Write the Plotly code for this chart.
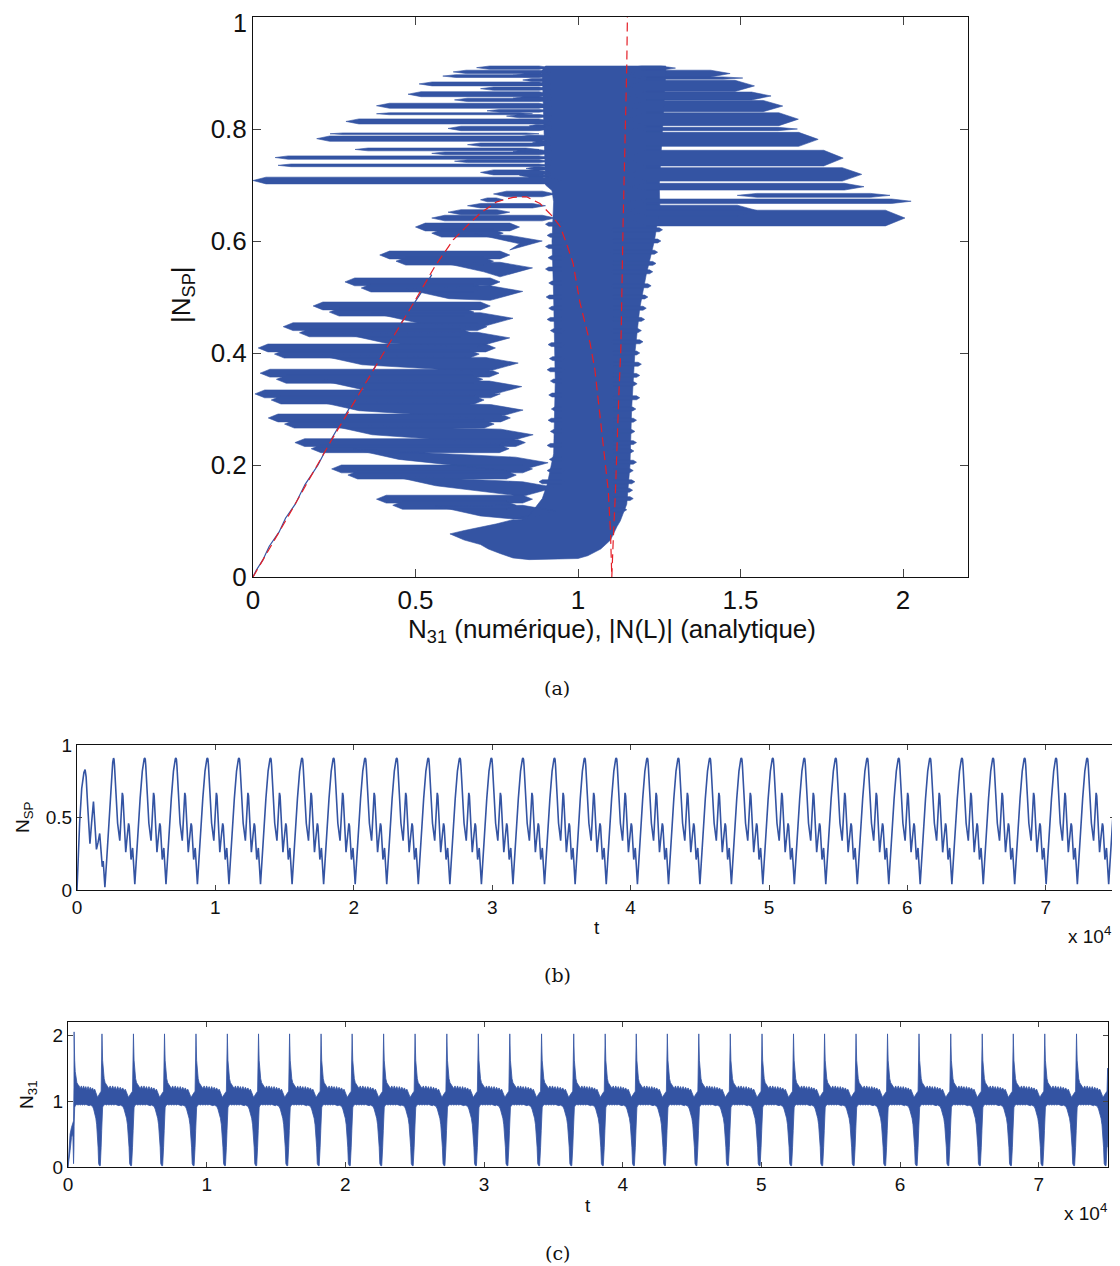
import plotly.graph_objects as go

BLUE = "#3454a3"
RED = "#e41e26"
FONT = "Liberation Sans"
SERIF = "DejaVu Serif"

# ---------------- panel (a) data ----------------
A_XTICKS = [0, 0.5, 1, 1.5, 2]
A_XTICKTEXT = ["0", "0.5", "1", "1.5", "2"]
A_YTICKS = [0, 0.2, 0.4, 0.6, 0.8, 1]
A_YTICKTEXT = ["0", "0.2", "0.4", "0.6", "0.8", "1"]

# outline of the dense column (core + vertical band + foot)
CORE_X = [0.90, 0.89, 0.90, 1.27, 1.27, 1.265, 1.26, 1.255, 1.25, 1.252,
          1.235, 1.21, 1.19, 1.175, 1.165, 1.16, 1.15,
          1.13, 1.12, 1.10, 1.07, 1.03, 1.0, 0.85, 0.80, 0.76, 0.724, 0.70, 0.65, 0.606, 0.65, 0.75, 0.85,
          0.89, 0.905, 0.925, 0.93, 0.925, 0.92, 0.925, 0.92, 0.90]
CORE_Y = [0.705, 0.905, 0.9125, 0.9125, 0.90, 0.85, 0.80, 0.75, 0.70, 0.66,
          0.60, 0.54, 0.48, 0.40, 0.30, 0.20, 0.13,
          0.10, 0.09, 0.066, 0.05, 0.038, 0.033, 0.031, 0.034, 0.042, 0.05, 0.058, 0.066, 0.077, 0.083, 0.095, 0.11,
          0.14, 0.165, 0.22, 0.35, 0.50, 0.60, 0.67, 0.69, 0.70]

# short horizontal hairs on the band's right and left edges (y, tip x)
RH_Y = [0.12, 0.14, 0.155, 0.17, 0.19, 0.205, 0.225, 0.24, 0.26, 0.28, 0.30, 0.32, 0.345, 0.36, 0.38, 0.40,
        0.42, 0.44, 0.46, 0.48, 0.50, 0.52, 0.545, 0.56, 0.58, 0.60, 0.62]
RH_X = [1.15, 1.17, 1.168, 1.175, 1.17, 1.18, 1.172, 1.18, 1.175, 1.18, 1.178, 1.19, 1.182, 1.19, 1.195, 1.19,
        1.20, 1.195, 1.205, 1.21, 1.215, 1.225, 1.23, 1.24, 1.245, 1.255, 1.26]
LH_Y = [0.17, 0.19, 0.21, 0.235, 0.26, 0.28, 0.30, 0.325, 0.35, 0.37, 0.39, 0.415, 0.44, 0.46, 0.48, 0.50,
        0.525, 0.55, 0.57, 0.59, 0.61, 0.63]
LH_X = [0.88, 0.905, 0.912, 0.905, 0.915, 0.908, 0.918, 0.91, 0.915, 0.905, 0.912, 0.908, 0.915, 0.905, 0.91,
        0.902, 0.91, 0.90, 0.908, 0.90, 0.905, 0.90]

# lower-left "fingers": left tip (x, y) and right tip (x, y)
FING_XL = [0.50, 0.39, 0.283, 0.185, 0.093, 0.016, 0.022, 0.006, 0.047, 0.129, 0.242, 0.38]
FING_YL = [0.625, 0.575, 0.527, 0.484, 0.447, 0.409, 0.364, 0.327, 0.284, 0.240, 0.193, 0.139]
FING_XR = [0.89, 0.86, 0.83, 0.80, 0.79, 0.816, 0.827, 0.831, 0.862, 0.908, 0.93, 0.93]
FING_YR = [0.600, 0.552, 0.510, 0.462, 0.427, 0.382, 0.340, 0.298, 0.254, 0.204, 0.160, 0.118]

# upper-left streaks (y range, left tip, right end)
UL_YLO = [0.9066, 0.899, 0.892, 0.877, 0.8577, 0.837, 0.8255, 0.809, 0.790, 0.778, 0.761, 0.746, 0.7327, 0.702,
          0.869, 0.849, 0.830, 0.797, 0.769, 0.754, 0.740, 0.718,
          0.893, 0.852, 0.820, 0.783, 0.757, 0.727, 0.714, 0.885, 0.803, 0.774]
UL_YHI = [0.9125, 0.905, 0.897, 0.884, 0.8666, 0.846, 0.829, 0.818, 0.793, 0.7875, 0.766, 0.752, 0.7375, 0.714,
          0.875, 0.855, 0.835, 0.805, 0.775, 0.759, 0.745, 0.727,
          0.899, 0.858, 0.826, 0.789, 0.763, 0.732, 0.720, 0.890, 0.808, 0.779]
UL_XL = [0.688, 0.616, 0.584, 0.511, 0.477, 0.38, 0.38, 0.286, 0.237, 0.196, 0.314, 0.068, 0.077, 0.0,
         0.70, 0.62, 0.72, 0.60, 0.66, 0.55, 0.62, 0.70,
         0.80, 0.80, 0.78, 0.82, 0.80, 0.84, 0.82, 0.83, 0.85, 0.86]
UL_XR = [0.92, 0.92, 0.92, 0.92, 0.92, 0.92, 0.86, 0.92, 0.88, 0.92, 0.88, 0.92, 0.92, 0.95,
         0.92, 0.92, 0.92, 0.92, 0.92, 0.92, 0.92, 0.92,
         0.92, 0.92, 0.92, 0.92, 0.92, 0.92, 0.92, 0.92, 0.92, 0.92]

# streaks hugging the analytic arch
AR_YLO = [0.679, 0.670, 0.659, 0.647, 0.636]
AR_YHI = [0.689, 0.677, 0.667, 0.656, 0.646]
AR_XL = [0.74, 0.70, 0.66, 0.60, 0.55]
AR_XR = [0.93, 0.77, 0.90, 0.79, 0.93]

# right-hand flag streaks
RF_YLO = [0.905, 0.893, 0.889, 0.867, 0.852, 0.831, 0.806, 0.797, 0.769, 0.734, 0.707, 0.691, 0.678, 0.667, 0.645, 0.627]
RF_YHI = [0.9125, 0.905, 0.893, 0.887, 0.866, 0.851, 0.829, 0.803, 0.794, 0.762, 0.731, 0.703, 0.685, 0.675, 0.664, 0.655]
RF_XL = [1.15, 1.15, 1.15, 1.15, 1.15, 1.15, 1.15, 1.15, 1.15, 1.15, 1.15, 1.15, 1.49, 1.15, 1.15, 1.15]
RF_XR = [1.30, 1.468, 1.507, 1.543, 1.594, 1.63, 1.678, 1.675, 1.739, 1.816, 1.873, 1.88, 1.96, 2.025, 1.55, 2.006]

# numeric trajectory start, along the analytic curve
INIT_X = [0, 0.01, 0.03, 0.05, 0.08, 0.10, 0.13, 0.16, 0.20, 0.24, 0.28, 0.32, 0.36, 0.40, 0.44, 0.48, 0.52, 0.55]
INIT_Y = [0, 0.012, 0.03, 0.055, 0.08, 0.105, 0.13, 0.165, 0.20, 0.245, 0.285, 0.325, 0.36, 0.40, 0.44, 0.475, 0.51, 0.54]

# analytic |N(L)| curve (red dashed)
RED_X = [0, 0.10, 0.242, 0.35, 0.452, 0.503, 0.56, 0.616, 0.662, 0.70, 0.75, 0.80, 0.842, 0.883, 0.923, 0.945,
         0.965, 0.985, 1.006, 1.022, 1.037, 1.052, 1.065, 1.078, 1.093, 1.100, 1.104, 1.108, 1.115, 1.126,
         1.132, 1.139, 1.146, 1.150, 1.152]
RED_Y = [0, 0.10, 0.245, 0.35, 0.447, 0.498, 0.555, 0.602, 0.629, 0.650, 0.670, 0.678, 0.679, 0.667, 0.643, 0.626,
         0.595, 0.56, 0.49, 0.45, 0.418, 0.37, 0.30, 0.23, 0.155, 0.08, 0.0, 0.06, 0.15, 0.33,
         0.41, 0.64, 0.80, 0.91, 1.0]

# ---------------- panel (b) data ----------------
T_TICKS = [0, 10000, 20000, 30000, 40000, 50000, 60000, 70000]
T_TICKTEXT = ["0", "1", "2", "3", "4", "5", "6", "7"]
B_YTICKS = [0, 0.5, 1]
B_YTICKTEXT = ["0", "0.5", "1"]

NSP_FIRST_T = [0, 60, 190, 340, 500, 585, 660, 760, 850, 935, 1070, 1190, 1295, 1405, 1525, 1640, 1730, 1825,
               1895, 1955, 2015, 2140, 2330, 2480, 2580, 2640]
NSP_FIRST_V = [0.0, 0.2, 0.46, 0.70, 0.81, 0.83, 0.78, 0.60, 0.42, 0.32, 0.48, 0.61, 0.45, 0.28, 0.33, 0.39, 0.28,
               0.16, 0.20, 0.12, 0.02, 0.2, 0.5, 0.75, 0.88, 0.91]
NSP_PEAKS_E4 = [0.264, 0.490, 0.715, 0.943, 1.171, 1.399, 1.627, 1.855, 2.083, 2.311, 2.539, 2.767, 2.995,
                3.223, 3.451, 3.669, 3.897, 4.121, 4.346, 4.574, 4.801, 5.028, 5.256, 5.483, 5.711, 5.938,
                6.165, 6.395, 6.620, 6.848, 7.075, 7.300]
NSP_PHASE = [0.00, 0.015, 0.03, 0.055, 0.08, 0.13, 0.17, 0.20, 0.22, 0.25, 0.28, 0.30, 0.33, 0.36, 0.39, 0.42,
             0.45, 0.48, 0.50, 0.53, 0.56, 0.59, 0.61, 0.63, 0.66, 0.68, 0.72, 0.78, 0.85, 0.92, 0.955, 0.98, 1.00]
NSP_SHAPE = [0.91, 0.90, 0.86, 0.78, 0.66, 0.46, 0.36, 0.34, 0.42, 0.60, 0.67, 0.65, 0.50, 0.34, 0.26, 0.33,
             0.43, 0.46, 0.44, 0.32, 0.21, 0.26, 0.29, 0.22, 0.06, 0.04, 0.18, 0.40, 0.63, 0.82, 0.88, 0.905, 0.91]
NSP_END = 0.68

# ---------------- panel (c) data ----------------
C_YTICKS = [0, 1, 2]
C_YTICKTEXT = ["0", "1", "2"]
N31_FIRST_T = [0, 60, 150, 250, 350, 400, 430, 440]
N31_FIRST_UP = [0.0, 0.3, 0.5, 0.6, 0.68, 0.7, 1.2, 2.05]
N31_FIRST_LO = [0.0, 0.05, 0.25, 0.45, 0.5, 0.05, 0.3, 0.62]
N31_SPIKES_E4 = [0.044, 0.245, 0.472, 0.696, 0.923, 1.149, 1.374, 1.598, 1.825, 2.049, 2.276, 2.503, 2.732,
                 2.959, 3.186, 3.415, 3.647, 3.874, 4.098, 4.322, 4.549, 4.776, 5.005, 5.232, 5.456, 5.683,
                 5.910, 6.137, 6.366, 6.593, 6.817, 7.044, 7.273]
N31_PHASE = [0.0, 0.008, 0.02, 0.04, 0.07, 0.10, 0.14, 0.18, 0.22, 0.26, 0.30, 0.34, 0.38, 0.42, 0.46, 0.50,
             0.54, 0.58, 0.62, 0.66, 0.70, 0.74, 0.78, 0.81, 0.84, 0.86, 0.88, 0.91, 0.94, 0.97, 0.99, 1.0]
N31_UP = [2.02, 1.85, 1.62, 1.45, 1.34, 1.28, 1.25, 1.23, 1.19, 1.23, 1.18, 1.23, 1.18, 1.22, 1.17, 1.22,
          1.17, 1.21, 1.17, 1.20, 1.16, 1.18, 1.13, 1.09, 1.06, 1.07, 1.09, 1.11, 1.13, 1.15, 1.5, 2.02]
N31_LO = [0.62, 0.82, 0.90, 0.93, 0.94, 0.95, 0.94, 0.95, 0.94, 0.95, 0.94, 0.95, 0.94, 0.95, 0.94, 0.94,
          0.93, 0.94, 0.93, 0.92, 0.88, 0.83, 0.74, 0.64, 0.48, 0.30, 0.05, 0.02, 0.02, 0.30, 0.55, 0.62]
N31_END_UP = 1.3
N31_END_LO = 0.3
T_MAX = 75000

# ================= build figure =================
fig = go.Figure()


def add_poly(px, py, xs, ys):
    px.extend(list(xs) + [xs[0], None])
    py.extend(list(ys) + [ys[0], None])


def bar(xl, xr, ylo, yhi, taper=0.04):
    ym = (ylo + yhi) / 2
    t = min(taper, 0.3 * (xr - xl))
    return [xl, xl + t, xr - t, xr, xr - t, xl + t], [ym, yhi, yhi, ym, ylo, ylo]


PX, PY = [], []
add_poly(PX, PY, CORE_X, CORE_Y)
for y, x in zip(RH_Y, RH_X):
    add_poly(PX, PY, *bar(1.10, x, y - 0.0035, y + 0.0035, taper=0.01))
for y, x in zip(LH_Y, LH_X):
    add_poly(PX, PY, *bar(x, 0.96, y - 0.0035, y + 0.0035, taper=0.01))
for xl, yl, xr, yr in zip(FING_XL, FING_YL, FING_XR, FING_YR):
    # upper streak, middle streak, and lower thick prong reaching the right tip
    add_poly(PX, PY, *bar(xl, xr - 0.07, yl - 0.007, yl + 0.007, taper=0.03))
    add_poly(PX, PY, *bar(xl + 0.05, xr - 0.12, yl - 0.018, yl - 0.004, taper=0.03))
    xs = [xl + 0.18, xr - 0.10, xr, xr - 0.10, xl + 0.32]
    ys = [yl - 0.012, yr + 0.010, yr, yr - 0.016, yl - 0.030]
    add_poly(PX, PY, xs, ys)
for ylo, yhi, xl, xr in zip(UL_YLO, UL_YHI, UL_XL, UL_XR):
    add_poly(PX, PY, *bar(xl, xr, ylo, yhi))
for ylo, yhi, xl, xr in zip(AR_YLO, AR_YHI, AR_XL, AR_XR):
    add_poly(PX, PY, *bar(xl, xr, ylo, yhi))
for ylo, yhi, xl, xr in zip(RF_YLO, RF_YHI, RF_XL, RF_XR):
    add_poly(PX, PY, *bar(xl, xr, ylo, yhi, taper=0.06))

fig.add_trace(go.Scatter(x=PX, y=PY, mode="lines", fill="toself", fillcolor=BLUE,
                         line=dict(color=BLUE, width=0.6), hoverinfo="skip", showlegend=False,
                         xaxis="x", yaxis="y"))
fig.add_trace(go.Scatter(x=INIT_X, y=INIT_Y, mode="lines", line=dict(color=BLUE, width=1.2),
                         hoverinfo="skip", showlegend=False, xaxis="x", yaxis="y"))
fig.add_trace(go.Scatter(x=RED_X, y=RED_Y, mode="lines", line=dict(color=RED, width=1.2, dash="9px,5px"),
                         hoverinfo="skip", showlegend=False, xaxis="x", yaxis="y"))

# panel (b)
tb = list(NSP_FIRST_T)
vb = list(NSP_FIRST_V)
peaks = [p * 1e4 for p in NSP_PEAKS_E4]
for p0, p1 in zip(peaks[:-1], peaks[1:]):
    for ph, v in zip(NSP_PHASE[1:], NSP_SHAPE[1:]):
        tb.append(p0 + ph * (p1 - p0))
        vb.append(v)
period_b = (peaks[-1] - peaks[0]) / (len(peaks) - 1)
for ph, v in zip(NSP_PHASE[1:], NSP_SHAPE[1:]):
    t = peaks[-1] + ph * period_b
    if t < T_MAX:
        tb.append(t)
        vb.append(v)
tb.append(T_MAX)
vb.append(NSP_END)
fig.add_trace(go.Scatter(x=tb, y=vb, mode="lines", line=dict(color=BLUE, width=1.6),
                         hoverinfo="skip", showlegend=False, xaxis="x2", yaxis="y2"))

# panel (c)
tc = list(N31_FIRST_T)
uc = list(N31_FIRST_UP)
lc = list(N31_FIRST_LO)
spikes = [s * 1e4 for s in N31_SPIKES_E4]
for s0, s1 in zip(spikes[:-1], spikes[1:]):
    for ph, u, l in zip(N31_PHASE[1:], N31_UP[1:], N31_LO[1:]):
        tc.append(s0 + ph * (s1 - s0))
        uc.append(u)
        lc.append(l)
period_c = (spikes[-1] - spikes[1]) / (len(spikes) - 2)
for ph, u, l in zip(N31_PHASE[1:], N31_UP[1:], N31_LO[1:]):
    t = spikes[-1] + ph * period_c
    if t < T_MAX - 10:
        tc.append(t)
        uc.append(u)
        lc.append(l)
tc.append(T_MAX)
uc.append(N31_END_UP)
lc.append(N31_END_LO)
fig.add_trace(go.Scatter(x=tc + tc[::-1], y=uc + lc[::-1], mode="lines", fill="toself", fillcolor=BLUE,
                         line=dict(color=BLUE, width=0.8), hoverinfo="skip", showlegend=False,
                         xaxis="x3", yaxis="y3"))

# page body has an 8px margin: the figure is sized and placed to compensate
OFF = 8
W, H = 1112, 1258


def dom_x(l, r):
    return [(l - OFF) / W, (r - OFF) / W]


def dom_y(top, bottom):
    return [1 - (bottom - OFF) / H, 1 - (top - OFF) / H]


def axis(domain, rng, tickvals, ticktext, anchor, size, ticklen):
    return dict(domain=domain, range=rng, tickvals=tickvals, ticktext=ticktext, anchor=anchor,
                showline=True, linecolor="#111", linewidth=1, mirror="ticks", ticks="inside",
                ticklen=ticklen, tickcolor="#444", tickwidth=1, showgrid=False, zeroline=False,
                automargin=False, tickfont=dict(family=FONT, size=size, color="#111"), fixedrange=True)


# the top "1" label of panel (a) sits at the page edge; it is drawn as an annotation
a_ytext_axis = [t if v < 1 else "" for v, t in zip(A_YTICKS, A_YTICKTEXT)]

fig.update_layout(
    width=W, height=H, margin=dict(l=0, r=0, t=0, b=0, autoexpand=False),
    paper_bgcolor="white", plot_bgcolor="white", showlegend=False,
    xaxis=axis(dom_x(253, 968), [0, 2.2], A_XTICKS, A_XTICKTEXT, "y", 26, 8),
    yaxis=axis(dom_y(17, 577), [0, 1], A_YTICKS, a_ytext_axis, "x", 26, 8),
    xaxis2=axis(dom_x(77, 1115), [0, T_MAX], T_TICKS, T_TICKTEXT, "y2", 19, 5),
    yaxis2=axis(dom_y(745, 890), [0, 1], B_YTICKS, B_YTICKTEXT, "x2", 19, 5),
    xaxis3=axis(dom_x(68, 1108), [0, T_MAX], T_TICKS, T_TICKTEXT, "y3", 19, 5),
    yaxis3=axis(dom_y(1022, 1167), [0, 2.2], C_YTICKS, C_YTICKTEXT, "x3", 19, 5),
)


def ann(text, px, py, size, family=FONT, angle=0, xanchor="center"):
    fig.add_annotation(text=text, x=(px - OFF) / W, y=1 - (py - OFF) / H, xref="paper", yref="paper",
                       showarrow=False, xanchor=xanchor, yanchor="middle", textangle=angle,
                       font=dict(family=family, size=size, color="#111"))


fig.add_annotation(text=A_YTICKTEXT[-1], x=(248 - OFF) / W, y=1, xref="paper", yref="paper", showarrow=False,
                   xanchor="right", yanchor="top", borderpad=0,
                   font=dict(family=FONT, size=25, color="#111"))

ann("N<sub>31</sub> (numérique), |N(L)| (analytique)", 612, 630, 26)
ann("|N<sub>SP</sub>|", 182, 295, 26, angle=-90)
ann("(a)", 557, 688, 19, family=SERIF)
ann("t", 597, 927, 19)
ann("N<sub>SP</sub>", 24, 817, 19, angle=-90)
ann("x 10<sup>4</sup>", 1113, 935, 19, xanchor="right")
ann("(b)", 557, 975, 19, family=SERIF)
ann("t", 588, 1205, 19)
ann("N<sub>31</sub>", 28, 1095, 19, angle=-90)
ann("x 10<sup>4</sup>", 1109, 1212, 19, xanchor="right")
ann("(c)", 557, 1253, 19, family=SERIF)

fig.write_html("out.html")
